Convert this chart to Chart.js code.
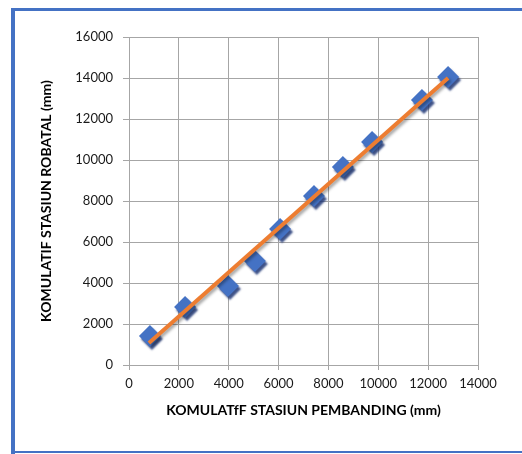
<!DOCTYPE html>
<html>
<head>
<meta charset="utf-8">
<script src="https://cdn.jsdelivr.net/npm/chart.js@4/dist/chart.umd.min.js"></script>
<style>
html,body{margin:0;padding:0;background:#fff;}
#wrap{position:relative;width:522px;height:454px;}
canvas{display:block;}
</style>
</head>
<body>
<div id="wrap"><canvas id="c" width="522" height="454"></canvas></div>
<script>
// Data
const pembanding = [840, 2250, 3970, 5050, 6060, 7420, 8580, 9750, 11750, 12800];
const robatal    = [1420, 2830, 3850, 5070, 6630, 8240, 9660, 10880, 12930, 14050];
const trendX = [800, 12800];
const trendY = [1070, 14000];
const xTicks = [0, 2000, 4000, 6000, 8000, 10000, 12000, 14000];
const yTicks = [0, 2000, 4000, 6000, 8000, 10000, 12000, 14000, 16000];
const xTitle = 'KOMULATfF STASIUN PEMBANDING (mm)';
const yTitle = 'KOMULATIF STASIUN ROBATAL (mm)';

const scatterPts = pembanding.map((x, i) => ({x: x, y: robatal[i]}));
const trendPts = trendX.map((x, i) => ({x: x, y: trendY[i]}));

const shadowPlugin = {
  id: 'shadows',
  beforeDatasetDraw(chart, args) {
    const ctx = chart.ctx;
    ctx.save();
    if (args.index === 1) {
      ctx.shadowColor = 'rgba(28,52,115,0.85)';
      ctx.shadowOffsetX = 2;
      ctx.shadowOffsetY = 3;
      ctx.shadowBlur = 2;
    } else {
      ctx.shadowColor = 'rgba(0,0,0,0.35)';
      ctx.shadowOffsetX = 2;
      ctx.shadowOffsetY = 2;
      ctx.shadowBlur = 3;
    }
  },
  afterDatasetDraw(chart) {
    chart.ctx.restore();
  }
};

const framePlugin = {
  id: 'frame',
  afterDraw(chart) {
    const ctx = chart.ctx;
    ctx.save();
    ctx.fillStyle = '#4472C4';
    ctx.fillRect(11, 8, 522 - 11, 3);
    ctx.fillRect(11, 8, 4, 446);
    ctx.fillRect(11, 451, 522 - 11, 2);
    ctx.restore();
  }
};

const fontFam = 'Lato, "Open Sans", sans-serif';

new Chart(document.getElementById('c'), {
  type: 'scatter',
  data: {
    datasets: [
      {
        label: 'Trend',
        type: 'line',
        data: trendPts,
        borderColor: '#ED7D31',
        borderWidth: 4,
        pointRadius: 0,
        fill: false,
        order: 0
      },
      {
        label: 'Data',
        data: scatterPts,
        pointStyle: 'rectRot',
        pointRadius: 11,
        backgroundColor: '#4472C4',
        borderColor: '#4472C4',
        borderWidth: 0,
        order: 1
      }
    ]
  },
  options: {
    responsive: false,
    animation: false,
    devicePixelRatio: 1,
    layout: {padding: {left: 35, top: 37, right: 44, bottom: 35}},
    plugins: {legend: {display: false}, tooltip: {enabled: false}},
    scales: {
      x: {
        type: 'linear',
        min: 0, max: 14000,
        afterBuildTicks(s) { s.ticks = xTicks.map(v => ({value: v})); },
        afterFit(s) { s.height = 54; },
        grid: {color: '#a6a6a6', lineWidth: 1, tickLength: 5, drawTicks: true},
        border: {color: '#a6a6a6'},
        ticks: {color: '#1a1a1a', font: {family: fontFam, size: 13}, padding: 6, maxRotation: 0, autoSkip: false,
                callback: v => String(v)},
        title: {display: true, text: xTitle, color: '#000', font: {family: fontFam, size: 14, weight: 'bold'}, padding: 0}
      },
      y: {
        type: 'linear',
        min: 0, max: 16000,
        afterBuildTicks(s) { s.ticks = yTicks.map(v => ({value: v})); },
        afterFit(s) { s.width = 94; },
        grid: {color: '#a6a6a6', lineWidth: 1, tickLength: 6, drawTicks: true},
        border: {color: '#a6a6a6'},
        ticks: {color: '#1a1a1a', font: {family: fontFam, size: 13}, padding: 10, autoSkip: false,
                callback: v => String(v)},
        title: {display: true, text: yTitle, color: '#000', font: {family: fontFam, size: 14, weight: 'bold'}, padding: {top: 3, bottom: 0}}
      }
    }
  },
  plugins: [shadowPlugin, framePlugin]
});
</script>
</body>
</html>
